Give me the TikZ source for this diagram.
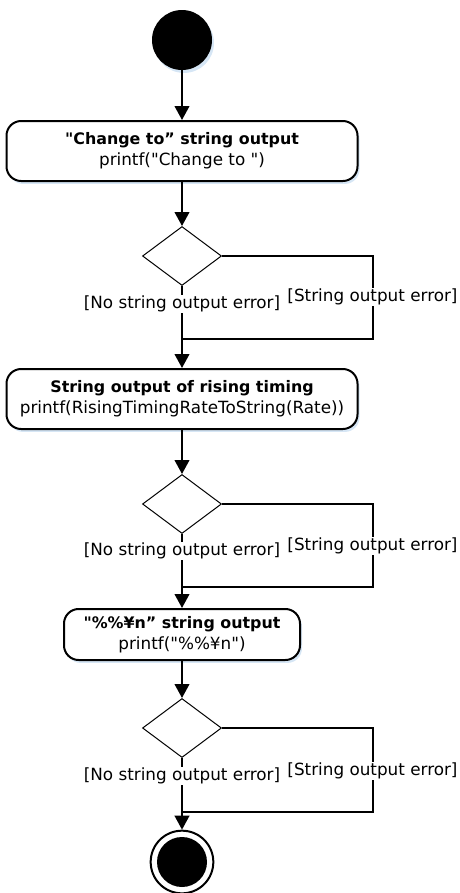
\documentclass[tikz,border=0pt]{standalone}
\usepackage{fontspec}
\setmainfont{DejaVu Sans}[Ligatures=TeXOff]
\usetikzlibrary{arrows.meta,shapes.geometric,shadows}
\definecolor{shadowblue}{RGB}{214,230,245}
\begin{document}
\begin{tikzpicture}[x=0.75pt,y=-0.75pt,
  every node/.style={font=\fontsize{12.6}{15.8}\selectfont},
  shd/.style={drop shadow={shadow xshift=1.5pt,shadow yshift=-2.2pt,fill=shadowblue,opacity=1}},
  act/.style={draw,rectangle,rounded corners=11pt,line width=1.5pt,fill=white,shd,align=center,inner sep=0pt},
  dec/.style={draw,diamond,line width=0.75pt,fill=white,minimum width=59.25pt,minimum height=44.25pt,inner sep=0pt},
  flow/.style={line width=1.5pt,-{Triangle[length=10.5pt,width=11pt]}},
  seg/.style={line width=1.5pt},
  lbl/.style={fill=white,inner sep=1pt}
]
\useasboundingbox (0,0) rectangle (460,893);

\node[circle,fill=black,minimum size=45pt,inner sep=0pt,shd] (start) at (182,40) {};

\node[act,minimum width=263.25pt,minimum height=45pt] (b1) at (182,151)
  {{\fontsize{11.9}{15.8}\selectfont\bfseries "Change to” string output}\\printf("Change to ")};
\node[dec] (d1) at (182,256) {};
\coordinate (m1) at (182,339);
\coordinate (r1) at (373,339);

\node[act,minimum width=263.25pt,minimum height=45pt] (b2) at (182,399)
  {{\fontsize{11.9}{15.8}\selectfont\bfseries String output of rising timing}\\printf(RisingTimingRateToString(Rate))};
\node[dec] (d2) at (182,504) {};
\coordinate (m2) at (182,587);
\coordinate (r2) at (373,587);

\node[act,minimum width=177pt,minimum height=38.25pt] (b3) at (182,634.5)
  {{\fontsize{11.9}{15.8}\selectfont\bfseries "\%\%¥n” string output}\\printf("\%\%¥n")};
\node[dec] (d3) at (182,728) {};
\coordinate (m3) at (182,812);
\coordinate (r3) at (373,812);

\node[circle,draw,line width=1.5pt,minimum size=47pt,inner sep=0pt,fill=white] (end) at (182,862) {};
\fill (end.center) circle[radius=18.75pt];

% connectors
\draw[flow] (start) -- (b1);
\draw[flow] (b1) -- (d1);
\draw[seg] (d1.south) -- (m1);
\draw[seg] (d1.east) -| (r1) -- (m1);
\draw[flow] (m1) -- (b2);
\draw[flow] (b2) -- (d2);
\draw[seg] (d2.south) -- (m2);
\draw[seg] (d2.east) -| (r2) -- (m2);
\draw[flow] (m2) -- (b3);
\draw[flow] (b3) -- (d3);
\draw[seg] (d3.south) -- (m3);
\draw[seg] (d3.east) -| (r3) -- (m3);
\draw[flow] (m3) -- (end);

% labels
\node[lbl] (n1) at (182,304) {[No string output error]};
\node[lbl] (s1) at (372.5,297) {[String output error]};
\node[lbl] (n2) at (182,551) {[No string output error]};
\node[lbl] (s2) at (372.5,546) {[String output error]};
\node[lbl] (n3) at (182,776) {[No string output error]};
\node[lbl] (s3) at (372.5,771) {[String output error]};
\end{tikzpicture}
\end{document}
